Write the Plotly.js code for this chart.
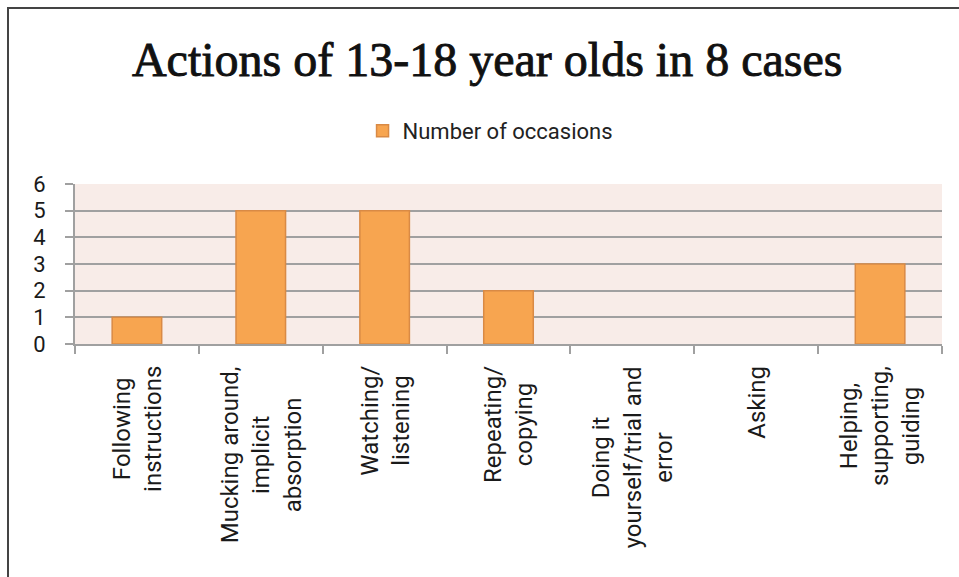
<!DOCTYPE html>
<html>
<head>
<meta charset="utf-8">
<script src="https://cdn.plot.ly/plotly-3.0.1.min.js"></script>
<style>
  html, body { margin: 0; padding: 0; background: #fff; }
  #frame { position: absolute; left: 7px; top: 7px; width: 960px; height: 580px;
           border-left: 2px solid #444; border-top: 2px solid #444; }
  #chart { position: absolute; left: 0; top: 0; width: 959px; height: 577px; }
  #chart .gtitle { stroke: #111; stroke-width: 0.9px; paint-order: stroke; }
</style>
</head>
<body>
<div id="frame"></div>
<div id="chart"></div>
<script>
const categories = [
  "Following<br>instructions",
  "Mucking around,<br>implicit<br>absorption",
  "Watching/<br>listening",
  "Repeating/<br>copying",
  "Doing it<br>yourself/trial and<br>error",
  "Asking",
  "Helping,<br>supporting,<br>guiding"
];
const occasions = [1, 5, 5, 2, 0, 0, 3];
const seriesName = "Number of occasions";
const titleText = "Actions of 13-18 year olds in 8 cases";

const labelFont = { family: "Roboto, sans-serif", size: 24, color: "#1a1a1a" };

const trace = {
  type: "bar",
  x: categories,
  y: occasions,
  name: seriesName,
  marker: {
    color: "#f7a550",
    line: { color: "#d98a45", width: occasions.map(v => v > 0 ? 1.5 : 0) }
  },
  hoverinfo: "x+y"
};

const catAnnotations = categories.map(c => ({
  x: c, xref: "x",
  y: 0, yref: "paper",
  yanchor: "top", xanchor: "center",
  yshift: -20,
  textangle: -90,
  align: "center",
  showarrow: false,
  text: c,
  font: labelFont
}));

const layout = {
  width: 959, height: 577,
  paper_bgcolor: "rgba(0,0,0,0)",
  plot_bgcolor: "#f8ece8",
  margin: { l: 75, r: 17, t: 184, b: 233 },
  bargap: 0.6,
  showlegend: true,
  title: {
    text: titleText,
    font: { family: "Liberation Serif, serif", size: 48, color: "#111" },
    x: 0.508, xanchor: "center",
    y: 1 - 59/577, yanchor: "middle", yref: "container"
  },
  legend: {
    orientation: "h",
    x: 0.511, xanchor: "center", xref: "container",
    y: 1 - 131/577, yanchor: "middle", yref: "container",
    font: { family: "Roboto, sans-serif", size: 22, color: "#222" },
    itemwidth: 30
  },
  annotations: catAnnotations,
  xaxis: {
    type: "category",
    tickson: "boundaries",
    ticks: "outside", ticklen: 8, tickcolor: "#a0a0a0", tickwidth: 2,
    showline: true, linecolor: "#a0a0a0", linewidth: 2,
    showgrid: false,
    showticklabels: false,
    automargin: false
  },
  yaxis: {
    range: [0, 6], dtick: 1,
    ticks: "outside", ticklen: 8, tickcolor: "#a0a0a0", tickwidth: 2,
    showline: true, linecolor: "#a0a0a0", linewidth: 2,
    showgrid: true, gridcolor: "#a0a0a0", gridwidth: 2,
    zeroline: false,
    ticklabelstandoff: 15,
    tickfont: { family: "Roboto, sans-serif", size: 22, color: "#1a1a1a" },
    automargin: false
  }
};

Plotly.newPlot("chart", [trace], layout, { displayModeBar: false, staticPlot: true });
</script>
</body>
</html>
